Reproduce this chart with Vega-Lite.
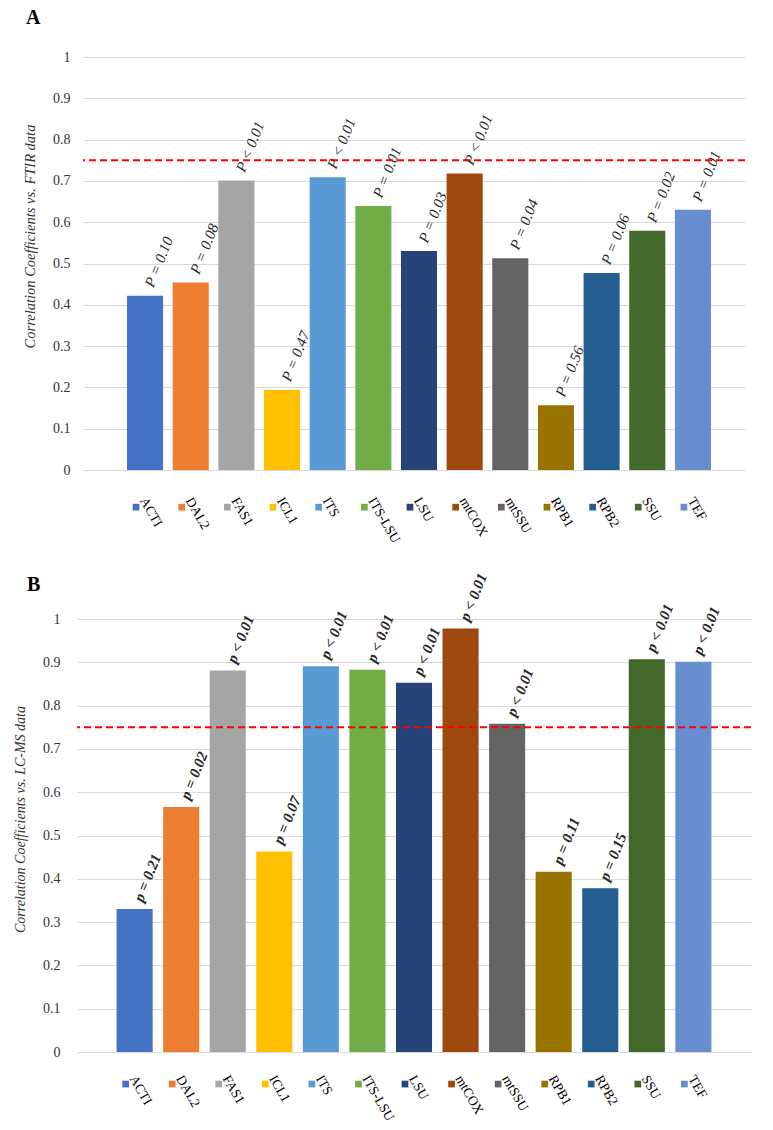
{
  "$schema": "https://vega.github.io/schema/vega-lite/v6.json",
  "padding": {"left": 13, "top": 8, "right": 5, "bottom": 5},
  "background": "white",
  "config": {
    "view": {"stroke": null},
    "font": "Liberation Serif",
    "axis": {"labelFont": "Liberation Serif", "titleFont": "Liberation Serif", "labelColor": "#333333", "titleColor": "#333333"},
    "title": {"font": "Liberation Serif"}
  },
  "datasets": {
    "ftir": [
      {"gene": "ACTI", "r": 0.422, "p": "P = 0.10"},
      {"gene": "DAL2", "r": 0.454, "p": "P = 0.08"},
      {"gene": "FAS1", "r": 0.701, "p": "P < 0.01"},
      {"gene": "ICL1", "r": 0.194, "p": "P = 0.47"},
      {"gene": "ITS", "r": 0.709, "p": "P < 0.01"},
      {"gene": "ITS-LSU", "r": 0.639, "p": "P = 0.01"},
      {"gene": "LSU", "r": 0.530, "p": "P = 0.03"},
      {"gene": "mtCOX", "r": 0.718, "p": "P < 0.01"},
      {"gene": "mtSSU", "r": 0.513, "p": "P = 0.04"},
      {"gene": "RPB1", "r": 0.157, "p": "P = 0.56"},
      {"gene": "RPB2", "r": 0.477, "p": "P = 0.06"},
      {"gene": "SSU", "r": 0.579, "p": "P = 0.02"},
      {"gene": "TEF", "r": 0.630, "p": "P = 0.01"}
    ],
    "lcms": [
      {"gene": "ACTI", "r": 0.330, "p": "p = 0.21"},
      {"gene": "DAL2", "r": 0.566, "p": "p = 0.02"},
      {"gene": "FAS1", "r": 0.881, "p": "p < 0.01"},
      {"gene": "ICL1", "r": 0.463, "p": "p = 0.07"},
      {"gene": "ITS", "r": 0.891, "p": "p < 0.01"},
      {"gene": "ITS-LSU", "r": 0.883, "p": "p < 0.01"},
      {"gene": "LSU", "r": 0.853, "p": "p < 0.01"},
      {"gene": "mtCOX", "r": 0.978, "p": "p < 0.01"},
      {"gene": "mtSSU", "r": 0.758, "p": "p < 0.01"},
      {"gene": "RPB1", "r": 0.416, "p": "p = 0.11"},
      {"gene": "RPB2", "r": 0.378, "p": "p = 0.15"},
      {"gene": "SSU", "r": 0.907, "p": "p < 0.01"},
      {"gene": "TEF", "r": 0.901, "p": "p < 0.01"}
    ],
    "thr": [{"t": 0.75}]
  },
  "spacing": 26,
  "center": true,
  "vconcat": [
    {
      "title": {"text": "A", "anchor": "start", "frame": "bounds", "fontSize": 20, "fontWeight": "bold", "color": "#000000", "offset": 22, "dx": 4},
      "width": 662,
      "height": 413,
      "data": {"name": "ftir"},
      "encoding": {
        "x": {"field": "gene", "type": "nominal", "sort": null,
          "scale": {"paddingInner": 0.21, "paddingOuter": 0.855, "align": 0.564},
          "axis": {"title": null, "domain": false, "ticks": false, "labelAngle": 60, "labelAlign": "left", "labelBaseline": "middle", "labelPadding": 28, "labelFontSize": 13.5, "labelColor": "#000000", "labelOffset": -2}},
        "y": {"field": "r", "type": "quantitative",
          "scale": {"domain": [0, 1], "nice": false},
          "axis": {"values": [0, 0.1, 0.2, 0.3, 0.4, 0.5, 0.6, 0.7, 0.8, 0.9, 1], "format": "~g", "domain": false, "ticks": false, "gridColor": "#d9d9d9", "labelFontSize": 14, "labelPadding": 13,
            "title": "Correlation Coefficients vs. FTIR data", "titleFontSize": 14.5, "titleFontStyle": "italic", "titleFontWeight": "normal", "titleX": -46, "titleY": 179}}
      },
      "layer": [
        {"mark": {"type": "bar"},
         "encoding": {"color": {"field": "gene", "type": "nominal", "legend": null,
           "scale": {"domain": ["ACTI","DAL2","FAS1","ICL1","ITS","ITS-LSU","LSU","mtCOX","mtSSU","RPB1","RPB2","SSU","TEF"],
                     "range": ["#4472C4","#ED7D31","#A5A5A5","#FFC000","#5B9BD5","#70AD47","#264478","#9E480E","#636363","#997300","#255E91","#43682B","#698ED0"]}}}},
        {"mark": {"type": "point", "shape": "square", "filled": true, "size": 45, "opacity": 1, "xOffset": -9},
         "encoding": {"y": {"datum": -0.09},
           "color": {"field": "gene", "type": "nominal", "legend": null,
           "scale": {"domain": ["ACTI","DAL2","FAS1","ICL1","ITS","ITS-LSU","LSU","mtCOX","mtSSU","RPB1","RPB2","SSU","TEF"],
                     "range": ["#4472C4","#ED7D31","#A5A5A5","#FFC000","#5B9BD5","#70AD47","#264478","#9E480E","#636363","#997300","#255E91","#43682B","#698ED0"]}}}},
        {"mark": {"type": "text", "angle": 292, "align": "left", "baseline": "middle", "dx": 10, "fontSize": 15, "fontStyle": "italic", "color": "#262626"},
         "encoding": {"text": {"field": "p"}}},
        {"data": {"name": "thr"},
         "mark": {"type": "rule", "color": "#FF0000", "strokeDash": [7, 4], "strokeWidth": 2},
         "encoding": {"y": {"field": "t", "type": "quantitative"}, "x": null}}
      ]
    },
    {
      "title": {"text": "B", "anchor": "start", "frame": "bounds", "fontSize": 20, "fontWeight": "bold", "color": "#000000", "offset": 4, "dx": 14, "dy": 28},
      "width": 674,
      "height": 433,
      "data": {"name": "lcms"},
      "encoding": {
        "x": {"field": "gene", "type": "nominal", "sort": null,
          "scale": {"paddingInner": 0.225, "paddingOuter": 0.85},
          "axis": {"title": null, "domain": false, "ticks": false, "labelAngle": 60, "labelAlign": "left", "labelBaseline": "middle", "labelPadding": 24, "labelFontSize": 13.5, "labelColor": "#000000", "labelOffset": -2}},
        "y": {"field": "r", "type": "quantitative",
          "scale": {"domain": [0, 1], "nice": false},
          "axis": {"values": [0, 0.1, 0.2, 0.3, 0.4, 0.5, 0.6, 0.7, 0.8, 0.9, 1], "format": "~g", "domain": false, "ticks": false, "gridColor": "#d9d9d9", "labelFontSize": 14, "labelPadding": 17,
            "title": "Correlation Coefficients vs. LC-MS data", "titleFontSize": 14, "titleFontStyle": "italic", "titleFontWeight": "normal", "titleX": -50, "titleY": 200}}
      },
      "layer": [
        {"mark": {"type": "bar"},
         "encoding": {"color": {"field": "gene", "type": "nominal", "legend": null,
           "scale": {"domain": ["ACTI","DAL2","FAS1","ICL1","ITS","ITS-LSU","LSU","mtCOX","mtSSU","RPB1","RPB2","SSU","TEF"],
                     "range": ["#4472C4","#ED7D31","#A5A5A5","#FFC000","#5B9BD5","#70AD47","#264478","#9E480E","#636363","#997300","#255E91","#43682B","#698ED0"]}}}},
        {"mark": {"type": "point", "shape": "square", "filled": true, "size": 45, "opacity": 1, "xOffset": -9},
         "encoding": {"y": {"datum": -0.074},
           "color": {"field": "gene", "type": "nominal", "legend": null,
           "scale": {"domain": ["ACTI","DAL2","FAS1","ICL1","ITS","ITS-LSU","LSU","mtCOX","mtSSU","RPB1","RPB2","SSU","TEF"],
                     "range": ["#4472C4","#ED7D31","#A5A5A5","#FFC000","#5B9BD5","#70AD47","#264478","#9E480E","#636363","#997300","#255E91","#43682B","#698ED0"]}}}},
        {"mark": {"type": "text", "angle": 292, "align": "left", "baseline": "middle", "dx": 9, "fontSize": 15, "fontStyle": "italic", "fontWeight": "bold", "color": "#262626"},
         "encoding": {"text": {"field": "p"}}},
        {"data": {"name": "thr"},
         "mark": {"type": "rule", "color": "#FF0000", "strokeDash": [7, 4], "strokeWidth": 2},
         "encoding": {"y": {"field": "t", "type": "quantitative"}, "x": null}}
      ]
    }
  ]
}
